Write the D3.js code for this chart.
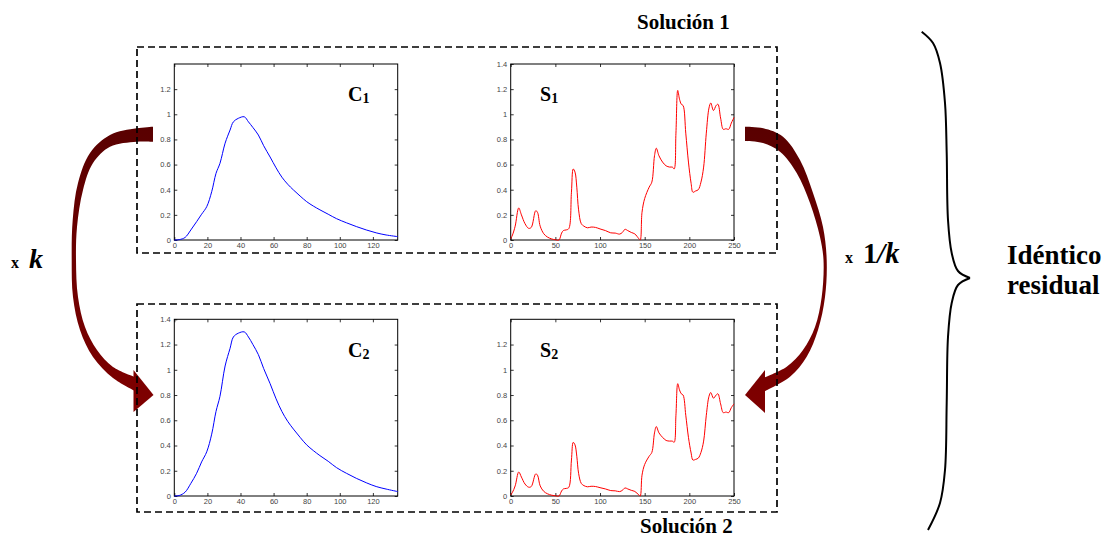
<!DOCTYPE html>
<html>
<head>
<meta charset="utf-8">
<script src="https://cdn.jsdelivr.net/npm/d3@7"></script>
<style>
  html, body { margin: 0; padding: 0; background: #fff; }
  svg { display: block; }
</style>
</head>
<body>
<svg id="fig" width="1111" height="539"></svg>
<script>
// ---- concentration profiles (time axis) ----
const cTime = [0, 3, 6.5, 10, 13.5, 16.5, 19.6, 22.6, 25.2, 27.6, 30.7, 33.7, 35.7, 38.7, 42.3, 44.8, 47.5, 50.8, 54, 57.9, 61.5, 65, 68.5, 72, 76, 80, 84, 88, 93, 98, 104, 110, 116, 122, 128, 135];
const c1Vals = [0, 0.003, 0.02, 0.08, 0.146, 0.205, 0.265, 0.384, 0.53, 0.61, 0.77, 0.875, 0.94, 0.968, 0.98, 0.94, 0.895, 0.835, 0.75, 0.66, 0.574, 0.50, 0.444, 0.398, 0.35, 0.305, 0.27, 0.24, 0.205, 0.17, 0.137, 0.107, 0.08, 0.057, 0.04, 0.027];
const c2Vals = [0, 0.004, 0.03, 0.1, 0.18, 0.27, 0.35, 0.49, 0.67, 0.79, 1.03, 1.17, 1.26, 1.29, 1.30, 1.26, 1.20, 1.12, 1.01, 0.89, 0.77, 0.67, 0.592, 0.53, 0.465, 0.405, 0.36, 0.32, 0.275, 0.225, 0.18, 0.14, 0.105, 0.075, 0.055, 0.035];

// ---- spectral profiles (channel axis) ----
const sChan = [0, 2, 5, 9, 12, 16, 20, 23, 28, 30, 33, 37, 41, 46, 50, 54, 57, 59, 62, 65, 68, 70, 72, 74, 76, 79, 82, 86, 90, 95, 100, 106, 112, 117, 122, 125, 128, 131, 135, 139, 143.5, 145, 147, 150, 155, 158, 161, 163, 166, 170, 174, 178, 181, 183, 185, 187, 189, 191, 193, 196, 199, 202, 204, 207, 210, 213, 216, 219, 222, 224, 227, 230, 232, 235, 238, 241, 244, 247, 250];
const s1Vals = [0.01, 0.04, 0.11, 0.255, 0.2, 0.13, 0.093, 0.1, 0.233, 0.22, 0.11, 0.05, 0.024, 0.008, 0.002, 0, 0.055, 0.075, 0.08, 0.09, 0.38, 0.565, 0.54, 0.42, 0.24, 0.13, 0.11, 0.097, 0.103, 0.1, 0.088, 0.075, 0.057, 0.055, 0.047, 0.06, 0.085, 0.075, 0.06, 0.048, 0.01, 0, 0.22, 0.33, 0.42, 0.46, 0.67, 0.73, 0.67, 0.62, 0.59, 0.58, 0.58, 0.565, 0.85, 1.19, 1.12, 1.08, 1.07, 0.85, 0.62, 0.45, 0.38, 0.39, 0.40, 0.46, 0.58, 0.85, 1.05, 1.09, 1.03, 1.07, 1.08, 0.97, 0.88, 0.885, 0.88, 0.93, 0.975];
const s2Vals = [0.008, 0.03, 0.08, 0.19, 0.15, 0.095, 0.07, 0.075, 0.175, 0.165, 0.08, 0.037, 0.018, 0.006, 0.0015, 0, 0.04, 0.056, 0.06, 0.068, 0.285, 0.425, 0.405, 0.315, 0.18, 0.1, 0.082, 0.073, 0.077, 0.075, 0.066, 0.056, 0.043, 0.041, 0.035, 0.045, 0.064, 0.056, 0.045, 0.036, 0.008, 0, 0.165, 0.25, 0.315, 0.345, 0.5, 0.55, 0.5, 0.465, 0.44, 0.435, 0.435, 0.425, 0.64, 0.89, 0.84, 0.81, 0.8, 0.64, 0.465, 0.34, 0.285, 0.29, 0.3, 0.345, 0.435, 0.64, 0.79, 0.82, 0.775, 0.8, 0.81, 0.73, 0.66, 0.665, 0.66, 0.7, 0.73];

// ---- tick labels ----
const cTicksX = [0, 20, 40, 60, 80, 100, 120];
const sTicksX = [0, 50, 100, 150, 200, 250];
const yTicksShort = [0, 0.2, 0.4, 0.6, 0.8, 1, 1.2];
const yTicksFull = [0, 0.2, 0.4, 0.6, 0.8, 1, 1.2, 1.4];

const SERIF = "'Liberation Serif', 'Times New Roman', serif";
const SANS = "'Liberation Sans', Arial, sans-serif";

const svg = d3.select("#fig");

// gradient for the curved arrows
const defs = svg.append("defs");
const grad = defs.append("linearGradient")
  .attr("id", "arrowFill").attr("gradientUnits", "userSpaceOnUse")
  .attr("x1", 0).attr("y1", 125).attr("x2", 0).attr("y2", 415);
grad.append("stop").attr("offset", 0).attr("stop-color", "#590000");
grad.append("stop").attr("offset", 1).attr("stop-color", "#800000");

// ---- one MATLAB-style panel ----
function panel(cfg) {
  const x = d3.scaleLinear().domain(cfg.xDomain).range([cfg.left, cfg.right]);
  const y = d3.scaleLinear().domain([0, 1.4]).range([cfg.bottom, cfg.top]);
  const g = svg.append("g");
  const fmt = d => String(+d.toFixed(1));

  const styleAxis = sel => {
    sel.select(".domain").remove();
    sel.selectAll(".tick line").attr("stroke", "#000").attr("stroke-width", 0.8);
    sel.selectAll(".tick text").style("fill", "#444").style("font-family", SANS).style("font-size", "7.5px");
  };

  g.append("g").attr("transform", `translate(${cfg.left},0)`)
    .call(d3.axisLeft(y).tickValues(cfg.yTicks).tickSize(-3).tickPadding(3.5).tickFormat(fmt))
    .call(styleAxis);
  g.append("g").attr("transform", `translate(${cfg.right},0)`)
    .call(d3.axisRight(y).tickValues(yTicksShort).tickSize(-3).tickFormat(""))
    .call(styleAxis);
  g.append("g").attr("transform", `translate(0,${cfg.bottom})`)
    .call(d3.axisBottom(x).tickValues(cfg.xTicks).tickSize(-3).tickPadding(3).tickFormat(fmt))
    .call(styleAxis);
  g.append("g").attr("transform", `translate(0,${cfg.top})`)
    .call(d3.axisTop(x).tickValues(cfg.xTicks).tickSize(-3).tickFormat(""))
    .call(styleAxis);

  g.append("rect")
    .attr("x", cfg.left).attr("y", cfg.top)
    .attr("width", cfg.right - cfg.left).attr("height", cfg.bottom - cfg.top)
    .attr("fill", "none").attr("stroke", "#000").attr("stroke-width", 1);

  const line = d3.line()
    .x((d, i) => x(cfg.xs[i]))
    .y(d => y(d))
    .curve(d3.curveCatmullRom.alpha(0.5));
  g.append("path").datum(cfg.ys)
    .attr("d", line)
    .attr("fill", "none").attr("stroke", cfg.color).attr("stroke-width", 1);

  const t = g.append("text")
    .attr("x", cfg.labelX).attr("y", cfg.labelY)
    .style("font-family", SERIF).style("font-weight", "bold").style("font-size", "20px")
    .attr("fill", "#000");
  t.append("tspan").text(cfg.label);
  t.append("tspan").attr("dy", 2).style("font-size", "14px").text(cfg.sub);
}

// ---- curved arrows (drawn before the dashed boxes, which overlap them) ----
const edge = d3.line().curve(d3.curveCatmullRom.alpha(0.5));
function curvedArrow(outer, inner, head) {
  const d = edge(outer) + edge(inner.slice().reverse()).replace(/^M/, "L") + "Z";
  svg.append("path").attr("d", d).attr("fill", "url(#arrowFill)");
  svg.append("path").attr("d", "M" + head.join("L") + "Z").attr("fill", "url(#arrowFill)");
}

curvedArrow(
  [[153, 126.7], [136.7, 128.3], [110, 135], [90, 153], [78, 183], [72.7, 220], [71.7, 260], [73, 297], [80, 330], [93, 357], [113, 378], [135, 391]],
  [[153, 141.7], [136.7, 141.7], [110, 146.7], [93, 163], [83, 190], [77, 227], [76, 260], [78, 297], [85, 327], [97, 350], [113, 367], [135, 377]],
  [[133.5, 370], [153.5, 395], [133.5, 412]]
);
curvedArrow(
  [[745, 126.7], [763.3, 128.3], [783, 136.7], [800, 160], [813, 193], [823, 227], [826.7, 260], [825, 297], [818, 330], [806.7, 356.7], [790, 376.7], [763, 392]],
  [[745, 141], [763, 143], [780, 151.7], [796.7, 173], [810, 203], [820, 237], [823.5, 260], [821.7, 297], [815, 327], [803, 350], [786.7, 366.7], [763, 378]],
  [[765, 370], [745, 395], [765, 413]]
);

// ---- panels ----
panel({ left: 174.3, right: 397.7, top: 64, bottom: 240, xDomain: [0, 135], xTicks: cTicksX, yTicks: yTicksShort,
        xs: cTime, ys: c1Vals, color: "#0000ff", label: "C", sub: "1", labelX: 348, labelY: 101 });
panel({ left: 510.7, right: 734, top: 64, bottom: 240, xDomain: [0, 250], xTicks: sTicksX, yTicks: yTicksFull,
        xs: sChan, ys: s1Vals, color: "#ff0000", label: "S", sub: "1", labelX: 540, labelY: 101 });
panel({ left: 174.3, right: 397.7, top: 319.3, bottom: 496, xDomain: [0, 135], xTicks: cTicksX, yTicks: yTicksFull,
        xs: cTime, ys: c2Vals, color: "#0000ff", label: "C", sub: "2", labelX: 348, labelY: 357 });
panel({ left: 510.7, right: 734, top: 319.3, bottom: 496, xDomain: [0, 250], xTicks: sTicksX, yTicks: yTicksShort,
        xs: sChan, ys: s2Vals, color: "#ff0000", label: "S", sub: "2", labelX: 540, labelY: 356.5 });

// ---- dashed solution boxes ----
[[137, 47, 777, 253], [137, 304, 777, 512]].forEach(([x0, y0, x1, y1]) => {
  svg.append("rect")
    .attr("x", x0).attr("y", y0).attr("width", x1 - x0).attr("height", y1 - y0)
    .attr("fill", "none").attr("stroke", "#000").attr("stroke-width", 1.7)
    .attr("stroke-dasharray", "7,4");
});

// ---- text annotations ----
function label(x, y, parts) {
  const t = svg.append("text").attr("x", x).attr("y", y)
    .style("font-family", SERIF).style("font-weight", "bold").attr("fill", "#000");
  parts.forEach(p => {
    const s = t.append("tspan").style("font-size", p.size + "px").text(p.text);
    if (p.italic) s.style("font-style", "italic");
    if (p.dx) s.attr("dx", p.dx);
  });
  return t;
}
label(637, 29, [{ text: "Solución 1", size: 21 }]);
label(640, 533, [{ text: "Solución 2", size: 21 }]);
label(11, 268, [{ text: "x", size: 16 }, { text: "k", size: 28, italic: true, dx: 10 }]);
label(845, 263, [{ text: "x", size: 16 }, { text: "1", size: 28.5, dx: 10 }, { text: "/k", size: 28.5, italic: true }]);
label(1007, 264, [{ text: "Idéntico", size: 27 }]);
label(1007, 294, [{ text: "residual", size: 27 }]);

// ---- brace ----
const brace = d3.line().curve(d3.curveCatmullRom.alpha(0.5));
const braceTop = [[921.7, 31.7], [933, 43], [940, 63], [945, 103], [946.7, 153], [948, 220], [951.7, 253], [958, 271], [970, 278]];
const braceBottom = [[970, 278], [958, 285], [951.7, 303], [948, 337], [946.7, 403], [945, 470], [940, 503], [928, 530]];
[braceTop, braceBottom].forEach(pts => {
  svg.append("path").attr("d", brace(pts))
    .attr("fill", "none").attr("stroke", "#000").attr("stroke-width", 2);
});
</script>
</body>
</html>
